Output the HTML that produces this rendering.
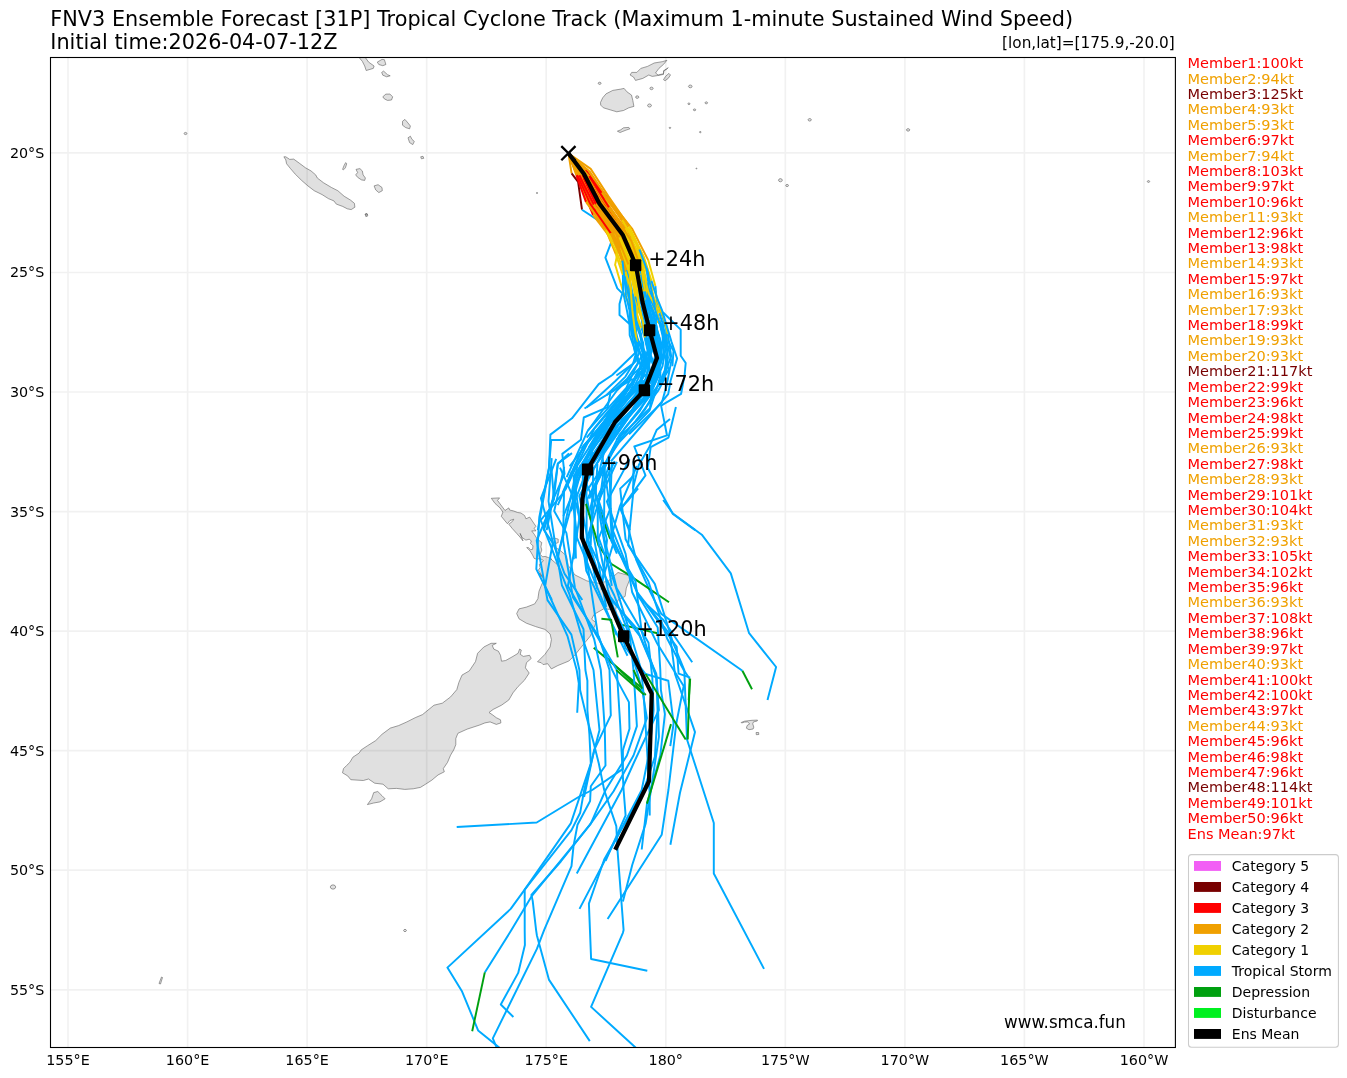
<!DOCTYPE html>
<html lang="en"><head><meta charset="utf-8"><title>FNV3 Ensemble Forecast [31P]</title>
<style>html,body{margin:0;padding:0;background:#fff}svg{display:block}text{font-family:"DejaVu Sans", "Liberation Sans", sans-serif}</style></head><body>
<svg width="1347" height="1078" viewBox="0 0 1347 1078">
<rect width="1347" height="1078" fill="#fff"/>
<text x="50.3" y="26" font-size="20.8">FNV3 Ensemble Forecast [31P] Tropical Cyclone Track (Maximum 1-minute Sustained Wind Speed)</text>
<text x="50.3" y="48.6" font-size="20.8">Initial time:2026-04-07-12Z</text>
<text x="1174.8" y="48" font-size="15.3" text-anchor="end">[lon,lat]=[175.9,-20.0]</text>
<defs><clipPath id="ax"><rect x="50.5" y="57.5" width="1124.9" height="990"/></clipPath></defs>
<g clip-path="url(#ax)">
<path fill="#e0e0e0" stroke="#606060" stroke-width="0.6" stroke-linejoin="round" d="M491.1 643.3L496.3 643.3L492.2 645.4L493.8 649.1L498.4 651.2L500.5 655.3L501.5 661.2L505.7 660.5L513.0 656.4L518.1 653.3L519.6 649.1L521.3 650.1L520.2 654.3L523.3 656.4L529.6 655.3L531.2 658.5L526.5 662.6L525.4 667.8L529.2 673.0L524.4 680.3L518.1 686.5L513.0 692.8L508.8 700.0L501.5 705.2L493.2 709.4L489.0 712.5L492.2 714.6L496.3 717.7L500.5 719.8L500.9 722.9L496.3 724.4L490.1 721.9L484.9 722.9L479.7 725.0L467.2 729.1L457.9 733.3L455.8 738.5L455.8 744.7L453.7 749.9L450.6 755.1L447.5 762.4L443.3 768.6L444.3 771.8L438.1 774.9L431.9 780.1L425.6 784.2L420.4 787.4L413.2 788.8L404.8 789.4L396.5 788.4L388.2 788.8L383.0 784.2L374.7 783.2L368.5 779.0L363.3 780.5L350.8 779.7L347.7 775.9L342.5 772.8L343.5 768.6L346.6 765.5L349.8 762.4L352.9 757.2L359.1 753.1L361.2 749.9L367.4 745.8L375.7 740.6L382.0 734.3L390.3 728.1L398.6 725.6L406.9 721.9L415.2 717.7L422.5 714.6L434.0 705.2L442.3 703.2L450.6 696.9L456.8 689.6L458.9 682.4L462.0 675.1L469.3 670.9L475.5 661.6L477.6 653.3L483.8 647.0ZM367.4 804.6L371.6 798.8L373.7 792.6L377.8 791.5L382.0 795.7L385.1 798.8L379.9 801.9L373.7 803.0ZM491.3 498.3L499.6 497.9L497.5 500.4L500.9 505.0L505.0 510.5L508.8 507.9L509.6 510.0L513.4 510.9L517.6 512.5L520.9 513.0L524.6 515.5L525.9 518.8L529.7 517.1L531.7 520.1L534.2 523.8L535.9 526.3L534.2 528.4L535.9 530.9L531.7 530.9L534.2 534.2L536.8 538.4L539.3 540.9L541.8 542.6L540.9 546.8L541.8 550.1L540.1 554.3L542.6 556.8L545.1 556.4L548.4 557.6L551.8 559.3L549.8 558.2L557.0 564.2L558.2 554.6L554.6 547.0L559.4 549.8L566.5 555.8L568.2 565.4L574.9 574.9L586.9 580.9L598.8 583.3L608.4 580.9L618.0 572.5L631.1 576.1L626.3 588.1L625.1 596.4L618.0 600.0L615.6 609.6L616.8 613.9L613.2 609.6L603.6 608.9L594.0 614.4L591.7 619.2L596.0 622.8L590.5 635.9L584.5 643.1L574.9 655.0L568.9 661.0L557.9 665.5L551.4 668.9L547.7 663.7L543.1 664.6L541.2 662.7L537.5 661.8L544.9 654.4L550.1 647.0L551.4 639.6L550.1 634.0L544.9 629.4L535.7 626.6L526.4 623.2L519.0 618.8L516.7 613.6L519.0 608.9L526.4 607.1L534.7 603.9L537.9 598.7L539.0 591.3L541.2 585.8L544.0 579.3L541.2 576.5L537.9 571.8L542.6 576.8L538.4 570.1L540.1 567.6L539.3 564.3L541.8 562.6L543.4 560.5L540.1 558.4L536.8 559.3L534.2 558.4L532.6 555.1L530.1 550.9L526.7 547.6L528.4 547.6L530.5 549.7L532.6 549.3L533.0 545.9L530.5 543.4L531.3 540.9L529.2 539.2L525.9 540.1L522.1 537.6L520.1 533.4L523.0 540.9L520.1 537.2L516.7 533.4L512.5 528.8L508.8 524.2L512.5 521.3L513.8 519.2L510.0 520.5L507.5 523.8L505.0 520.9L501.3 516.3L502.9 512.1L500.0 507.9L495.0 503.4ZM553.4 537.9L558.2 539.1L558.2 542.6L555.8 543.4ZM283.9 156.8L285.8 156.8L289.7 159.4L293.7 159.1L299.2 163.1L305.5 167.8L311.0 170.9L315.7 174.9L317.3 178.0L323.6 182.8L331.5 187.5L337.8 190.7L344.1 196.2L350.5 200.1L354.4 203.3L354.9 207.2L351.2 209.6L347.3 208.8L342.6 206.4L336.3 204.1L333.9 200.9L328.4 198.6L322.1 194.6L314.2 190.7L307.9 185.9L301.6 180.4L295.2 174.1L290.5 168.6L286.6 163.8L285.8 159.9ZM342.6 169.4L344.1 165.4L345.7 162.6L346.7 163.8L345.4 167.8L343.5 169.8ZM356.0 169.4L359.9 168.6L362.3 170.9L363.1 174.9L365.4 178.0L364.7 180.4L361.5 179.9L357.6 177.3L355.7 174.9L357.6 172.5ZM374.1 185.9L378.1 184.7L382.0 187.5L382.3 190.7L378.8 192.6L375.7 189.9ZM365.0 214.0L367.0 213.5L367.8 215.9L365.9 216.7ZM382.8 96.8L385.9 94.1L389.9 94.1L392.7 96.8L391.5 100.0L387.5 100.4L384.4 98.9ZM402.5 121.3L404.9 119.4L407.2 122.0L410.4 126.0L409.6 128.8L405.7 127.6L402.5 125.2ZM408.0 137.8L410.4 136.2L412.0 139.4L414.3 141.4L412.8 144.6L409.6 142.6ZM420.7 156.8L423.0 156.3L423.8 158.3L421.4 158.8ZM358.3 56.6L364.7 56.6L368.6 62.1L374.1 66.0L373.3 68.4L366.2 70.5L364.7 66.0L362.3 61.3ZM377.3 62.1L382.0 59.4L384.4 59.7L385.9 64.5L382.8 65.7L378.8 64.5ZM381.7 72.4L383.6 71.1L387.5 74.7L390.2 75.8L386.7 76.8L382.8 75.2ZM600.5 102.4L602.7 97.8L606.1 93.8L612.8 90.4L620.8 89.1L624.1 88.4L626.8 91.7L631.5 95.1L632.8 100.4L633.9 106.4L628.8 107.8L623.5 110.5L616.8 111.8L610.1 109.8L603.4 107.8L600.7 105.1ZM630.1 75.0L631.7 72.4L636.8 72.4L640.8 68.4L647.5 66.4L654.2 63.0L662.2 61.7L666.9 60.3L663.5 64.4L658.9 68.4L655.5 73.0L658.2 75.0L663.5 73.7L664.2 70.4L668.2 67.7L666.2 69.7L663.5 70.8L663.5 74.4L656.9 75.7L652.2 76.4L648.8 75.0L642.8 78.4L635.5 80.4L633.5 77.0ZM663.5 79.7L665.5 76.4L668.9 73.4L670.5 75.0L668.2 78.4L665.1 80.7ZM617.4 131.2L620.8 129.8L623.5 127.8L628.8 127.4L629.9 128.8L626.1 130.1L622.8 131.4L620.1 132.5ZM601.1 83.3L600.7 84.1L599.7 84.5L598.6 84.1L598.2 83.3L598.6 82.5L599.7 82.2L600.7 82.5ZM653.2 88.4L652.7 89.3L651.5 89.7L650.3 89.3L649.9 88.4L650.3 87.5L651.5 87.1L652.7 87.5ZM638.9 97.1L638.4 98.0L637.2 98.4L636.0 98.0L635.6 97.1L636.0 96.2L637.2 95.8L638.4 96.2ZM651.5 105.5L650.9 106.6L649.5 107.1L648.1 106.6L647.5 105.5L648.1 104.4L649.5 103.9L650.9 104.4ZM692.1 86.4L691.6 87.4L690.3 87.8L689.0 87.4L688.4 86.4L689.0 85.4L690.3 85.0L691.6 85.4ZM690.0 103.8L689.7 104.4L688.9 104.6L688.2 104.4L687.8 103.8L688.2 103.2L688.9 102.9L689.7 103.2ZM695.7 109.8L695.4 110.5L694.5 110.7L693.7 110.5L693.4 109.8L693.7 109.1L694.5 108.9L695.4 109.1ZM707.6 102.8L707.2 103.6L706.3 103.8L705.4 103.6L705.0 102.8L705.4 102.1L706.3 101.8L707.2 102.1ZM670.8 127.8L670.5 128.3L670.0 128.5L669.4 128.3L669.1 127.8L669.4 127.4L670.0 127.2L670.5 127.4ZM701.1 132.1L700.9 132.6L700.3 132.8L699.7 132.6L699.5 132.1L699.7 131.6L700.3 131.5L700.9 131.6ZM782.4 180.2L781.8 181.3L780.4 181.8L779.0 181.3L778.4 180.2L779.0 179.1L780.4 178.6L781.8 179.1ZM788.5 185.5L788.1 186.3L787.1 186.6L786.1 186.3L785.7 185.5L786.1 184.7L787.1 184.4L788.1 184.7ZM811.4 119.8L810.9 120.7L809.7 121.1L808.5 120.7L808.0 119.8L808.5 118.9L809.7 118.5L810.9 118.9ZM909.8 129.9L909.3 130.8L908.1 131.2L906.9 130.8L906.4 129.9L906.9 129.0L908.1 128.6L909.3 129.0ZM697.0 168.5L696.8 168.8L696.4 168.9L696.0 168.8L695.8 168.5L696.0 168.2L696.4 168.1L696.8 168.2ZM1149.7 181.5L1149.3 182.2L1148.5 182.4L1147.7 182.2L1147.3 181.5L1147.7 180.8L1148.5 180.6L1149.3 180.8ZM186.9 133.5L186.5 134.3L185.5 134.6L184.5 134.3L184.1 133.5L184.5 132.7L185.5 132.4L186.5 132.7ZM537.6 193.0L537.5 193.4L537.0 193.5L536.5 193.4L536.4 193.0L536.5 192.6L537.0 192.5L537.5 192.6ZM367.4 214.5L367.2 215.0L366.5 215.2L365.8 215.0L365.6 214.5L365.8 214.0L366.5 213.8L367.2 214.0ZM335.8 887.0L335.0 888.5L333.0 889.2L331.0 888.5L330.2 887.0L331.0 885.5L333.0 884.8L335.0 885.5ZM406.5 930.5L406.0 931.3L405.0 931.7L404.0 931.3L403.5 930.5L404.0 929.7L405.0 929.3L406.0 929.7ZM159.0 983.5L161.5 977.0L162.5 977.5L160.5 984.0ZM741.2 722.5L744.5 721.2L752.0 720.3L757.5 720.1L757.2 721.0L753.5 721.9L752.7 723.8L753.8 727.1L753.1 729.0L749.0 729.7L746.4 728.2L747.1 725.6L749.7 723.8L747.5 721.9L744.5 722.1L741.6 723.0ZM756.1 732.5L758.6 732.5L758.8 734.5L756.3 734.7Z"/>
<path d="M68.0 57.5V1047.5M187.6 57.5V1047.5M307.1 57.5V1047.5M426.7 57.5V1047.5M546.2 57.5V1047.5M665.8 57.5V1047.5M785.3 57.5V1047.5M904.9 57.5V1047.5M1024.4 57.5V1047.5M1144.0 57.5V1047.5M50.5 989.8H1175.4M50.5 870.2H1175.4M50.5 750.7H1175.4M50.5 631.1H1175.4M50.5 511.6H1175.4M50.5 392.0H1175.4M50.5 272.5H1175.4M50.5 152.9H1175.4" fill="none" stroke="#000" stroke-opacity="0.055" stroke-width="1.7"/>
<g fill="none" stroke-width="1.95" stroke-linejoin="round" stroke-linecap="butt">
<path stroke="#f0a000" d="M568.4 153.2L571.6 173.3"/>
<path stroke="#780000" d="M571.6 173.3L578.1 181.8L582.0 209.7"/>
<path stroke="#00aaff" d="M582.0 209.7L604.7 224.6L612.5 238.9L605.4 257.7L617.3 288.4L622.3 293.4L619.5 304.0L619.5 315.1L630.1 324.6L635.1 353.0L612.3 375.0L598.7 384.1L572.0 418.3L550.4 434.6L549.0 468.0L537.8 530.1"/>
<path stroke="#f0d000" d="M612.5 238.9L617.7 251.9L615.1 264.9L615.6 266.1L623.4 292.8L629.0 304.0"/>
<path stroke="#f0d000" d="M637.9 282.8L644.5 304.0L662.9 312.3"/>
<path stroke="#00aaff" d="M662.9 312.3L680.7 329.6L680.7 355.7L685.7 363.0L684.6 375.0L681.1 393.8L661.1 405.6L667.0 435.3L634.3 446.5L645.5 475.4L621.0 508.8L629.9 530.1"/>
<path stroke="#f0d000" d="M645.7 308.4L651.8 316.8L661.2 325.1L667.9 340.7"/>
<path stroke="#00aaff" d="M667.9 340.7L673.5 350.7L672.4 366.3"/>
<path stroke="#f0a000" d="M568.4 153.2L588.6 174.0"/>
<path stroke="#ff0000" d="M588.6 174.0L605.6 203.0"/>
<path stroke="#f0a000" d="M605.6 203.0L629.6 235.8L645.1 267.7"/>
<path stroke="#f0d000" d="M645.1 267.7L651.0 284.9L652.8 302.7L654.1 319.0L657.6 332.2"/>
<path stroke="#00aaff" d="M657.6 332.2L662.9 347.5L668.6 370.1L657.6 386.4L644.7 410.0L613.3 447.8L589.3 498.6"/>
<path stroke="#f0a000" d="M568.4 153.2L578.2 177.7L590.6 208.6L614.2 238.9"/>
<path stroke="#f0d000" d="M614.2 238.9L627.8 266.7L630.1 284.3L633.4 303.8L636.9 320.4"/>
<path stroke="#00aaff" d="M636.9 320.4L640.6 337.7L643.1 351.5L646.5 362.8L644.2 373.1L638.6 387.8L606.4 418.6L569.6 466.3"/>
<path stroke="#f0a000" d="M568.4 153.2L587.4 171.9"/>
<path stroke="#ff0000" d="M587.4 171.9L608.2 198.7"/>
<path stroke="#f0a000" d="M608.2 198.7L632.4 229.2L648.2 260.1"/>
<path stroke="#f0d000" d="M648.2 260.1L655.4 286.1"/>
<path stroke="#00aaff" d="M655.4 286.1L656.8 301.7L662.1 315.5L666.1 329.5L666.9 341.4L671.3 361.1L666.6 385.5L661.9 402.6L629.0 434.2"/>
<path stroke="#f0a000" d="M568.4 153.2L585.6 173.3L601.9 200.2L625.0 229.2"/>
<path stroke="#f0d000" d="M625.0 229.2L637.4 257.2L643.1 278.2L647.6 294.3"/>
<path stroke="#00aaff" d="M647.6 294.3L650.1 306.0L654.4 316.3L656.9 330.4L659.9 342.3L658.7 361.9L654.7 373.3L628.2 408.9L600.5 443.2"/>
<path stroke="#f0a000" d="M568.4 153.2L585.5 173.6L602.3 204.0L624.7 236.5"/>
<path stroke="#f0d000" d="M624.7 236.5L633.4 265.5L634.7 282.0"/>
<path stroke="#00aaff" d="M634.7 282.0L638.8 303.5L644.6 320.7L649.5 336.9L656.2 354.2L660.4 372.4L651.9 390.0L650.0 408.2L616.2 440.0"/>
<path stroke="#f0a000" d="M568.4 153.2L582.1 175.3L596.1 207.5L618.4 240.7"/>
<path stroke="#f0d000" d="M618.4 240.7L628.7 268.9"/>
<path stroke="#00aaff" d="M628.7 268.9L628.2 283.3L634.6 299.8L635.7 316.8L638.0 329.8L643.2 342.8L643.6 352.1L635.2 368.5L626.3 387.9L588.0 430.4"/>
<path stroke="#f0a000" d="M568.4 153.2L586.6 173.5L601.6 204.6L624.5 237.8L638.2 269.2"/>
<path stroke="#f0d000" d="M638.2 269.2L643.4 283.8"/>
<path stroke="#00aaff" d="M643.4 283.8L648.3 302.3L650.2 317.8L655.6 335.8L661.1 348.2L660.2 362.4L652.8 383.3L640.0 403.0L607.3 444.0L579.3 496.0L597.3 589.0"/>
<path stroke="#f0a000" d="M568.4 153.2L582.8 174.3L598.4 204.6L622.4 236.8L638.2 266.9"/>
<path stroke="#f0d000" d="M638.2 266.9L640.5 286.2"/>
<path stroke="#00aaff" d="M640.5 286.2L645.6 305.8L645.5 321.2L647.0 332.8L654.0 347.2L657.1 363.9L650.4 380.0L639.2 396.3L607.8 431.4L575.4 483.7L573.8 559.2"/>
<path stroke="#f0a000" d="M568.4 153.2L578.3 178.6"/>
<path stroke="#ff0000" d="M578.3 178.6L593.0 214.8"/>
<path stroke="#f0a000" d="M593.0 214.8L616.7 246.2"/>
<path stroke="#f0d000" d="M616.7 246.2L626.8 272.6"/>
<path stroke="#00aaff" d="M626.8 272.6L628.1 291.5L630.5 309.3L631.9 325.5L636.7 348.2L645.7 361.4L638.0 372.3L629.4 393.6L614.9 408.3L577.5 465.1L558.1 556.9"/>
<path stroke="#f0a000" d="M568.4 153.2L585.2 174.2"/>
<path stroke="#ff0000" d="M585.2 174.2L599.8 203.7"/>
<path stroke="#f0a000" d="M599.8 203.7L624.2 234.0"/>
<path stroke="#f0d000" d="M624.2 234.0L639.4 263.6L643.1 282.6L646.9 306.6L649.7 326.3L652.2 340.6"/>
<path stroke="#00aaff" d="M652.2 340.6L658.0 355.3L660.5 375.4L656.9 388.1L649.6 410.3L618.7 442.9L586.5 491.2L586.8 568.5"/>
<path stroke="#f0a000" d="M568.4 153.2L581.1 176.8L591.9 206.1L614.2 234.6"/>
<path stroke="#f0d000" d="M614.2 234.6L626.6 264.7L628.5 286.0L635.8 301.4L637.4 316.5L639.7 330.6"/>
<path stroke="#00aaff" d="M639.7 330.6L643.1 347.2L647.2 359.6L646.4 367.4L639.9 384.6L618.2 411.4L583.5 445.9L562.5 492.9"/>
<path stroke="#f0a000" d="M568.4 153.2L583.7 174.6L597.8 203.1L619.3 233.8"/>
<path stroke="#f0d000" d="M619.3 233.8L630.0 261.2"/>
<path stroke="#00aaff" d="M630.0 261.2L635.1 283.7L640.8 299.3L643.9 317.2L649.0 332.0L656.6 347.3L660.2 363.2L653.8 376.4L650.6 394.8L615.3 427.2L585.8 472.8L576.6 536.9L616.6 635.2"/>
<path stroke="#f0a000" d="M568.4 153.2L583.8 171.6L598.7 197.4L617.2 224.8L631.8 252.1"/>
<path stroke="#f0d000" d="M631.8 252.1L639.7 275.0"/>
<path stroke="#00aaff" d="M639.7 275.0L646.2 286.6L649.4 302.4L656.3 317.7L654.7 331.3L656.7 345.6L657.2 356.2L654.5 368.8L639.9 389.6L615.8 417.8"/>
<path stroke="#f0a000" d="M568.4 153.2L585.7 171.5L603.0 199.5L624.4 230.4"/>
<path stroke="#f0d000" d="M624.4 230.4L636.4 259.8"/>
<path stroke="#00aaff" d="M636.4 259.8L641.0 278.2L646.9 299.9L652.4 318.6L656.2 333.4L657.1 346.2L659.5 361.1L655.7 378.1L650.1 391.0"/>
<path stroke="#f0a000" d="M568.4 153.2L577.0 174.6"/>
<path stroke="#ff0000" d="M577.0 174.6L586.8 201.5"/>
<path stroke="#f0a000" d="M586.8 201.5L605.4 229.0L615.7 253.9"/>
<path stroke="#f0d000" d="M615.7 253.9L622.9 275.1"/>
<path stroke="#00aaff" d="M622.9 275.1L623.1 292.0L626.6 308.9L629.5 323.7L629.7 335.2L633.8 347.0L636.9 357.5L637.9 363.4L626.9 379.1L613.3 390.9L584.5 408.5"/>
<path stroke="#f0a000" d="M568.4 153.2L590.7 174.7L612.9 206.6L636.0 243.3"/>
<path stroke="#f0d000" d="M636.0 243.3L647.4 273.2L655.2 292.2L659.5 307.6L664.4 320.1L667.8 334.0"/>
<path stroke="#00aaff" d="M667.8 334.0L671.2 356.1L662.6 379.5L643.9 403.8L625.0 427.8L594.8 487.4L611.8 585.9"/>
<path stroke="#f0a000" d="M568.4 153.2L580.7 180.2L597.1 214.2L620.4 247.5"/>
<path stroke="#f0d000" d="M620.4 247.5L628.1 275.2L630.0 294.7"/>
<path stroke="#00aaff" d="M630.0 294.7L631.5 317.5L634.0 333.4L636.7 354.7L642.5 370.1L640.9 384.6L632.5 401.8L617.4 420.8L581.5 469.9L558.9 550.9"/>
<path stroke="#f0a000" d="M568.4 153.2L583.7 174.3"/>
<path stroke="#ff0000" d="M583.7 174.3L598.3 201.9"/>
<path stroke="#f0a000" d="M598.3 201.9L619.8 231.6"/>
<path stroke="#f0d000" d="M619.8 231.6L634.8 260.5L638.7 283.0"/>
<path stroke="#00aaff" d="M638.7 283.0L642.8 299.0L646.2 318.3L647.5 330.0L650.0 343.8L656.5 358.3L655.9 367.2L651.7 376.8L627.8 403.3L598.0 437.1"/>
<path stroke="#f0a000" d="M568.4 153.2L589.6 171.4L607.2 198.0L627.9 227.4"/>
<path stroke="#f0d000" d="M627.9 227.4L643.1 256.0L649.1 276.7L654.0 298.2L659.4 313.1"/>
<path stroke="#00aaff" d="M659.4 313.1L662.8 324.0L665.9 339.6L668.0 357.6L664.6 378.7L658.7 389.8L635.9 420.8"/>
<path stroke="#f0a000" d="M568.4 153.2L590.7 168.9L608.3 196.1L629.2 226.4"/>
<path stroke="#f0d000" d="M629.2 226.4L644.0 257.5L651.5 280.8"/>
<path stroke="#00aaff" d="M651.5 280.8L656.6 296.8L662.0 310.1L667.5 328.5L671.6 342.1L677.1 358.5L670.7 380.2L668.2 394.2L640.1 427.5L610.9 461.4"/>
<path stroke="#f0a000" d="M568.4 153.2L581.5 179.4L595.9 211.9L618.6 245.4L624.8 272.4"/>
<path stroke="#f0d000" d="M624.8 272.4L626.9 292.1L633.8 311.2"/>
<path stroke="#00aaff" d="M633.8 311.2L634.7 327.8L638.2 341.3L644.5 357.1L644.7 365.3L640.1 380.7L629.2 393.7L593.9 442.6L563.4 516.0"/>
<path stroke="#f0a000" d="M568.4 153.2L581.9 175.1L595.2 204.8L618.0 234.8"/>
<path stroke="#f0d000" d="M618.0 234.8L630.1 264.4L632.1 280.1L635.9 299.2L637.0 314.7L641.5 328.1"/>
<path stroke="#00aaff" d="M641.5 328.1L646.5 342.4L650.4 356.1L646.9 364.5L641.5 381.2L615.2 410.8"/>
<path stroke="#f0a000" d="M568.4 153.2L581.2 175.2L593.9 204.7L616.4 234.4"/>
<path stroke="#f0d000" d="M616.4 234.4L628.0 264.0L632.8 277.3L635.8 293.9L638.2 310.4L644.0 324.1"/>
<path stroke="#00aaff" d="M644.0 324.1L649.1 336.6L649.3 351.3L642.2 364.0L633.5 381.0L613.7 411.0L581.7 448.2"/>
<path stroke="#f0a000" d="M568.4 153.2L586.4 171.5"/>
<path stroke="#ff0000" d="M586.4 171.5L603.1 201.0"/>
<path stroke="#f0a000" d="M603.1 201.0L625.7 231.8"/>
<path stroke="#f0d000" d="M625.7 231.8L637.3 262.5"/>
<path stroke="#00aaff" d="M637.3 262.5L644.2 281.1L648.4 298.3L652.0 311.0L656.0 325.4L659.7 338.8L660.7 354.2L657.7 375.8L649.9 393.7L620.4 425.4"/>
<path stroke="#f0a000" d="M568.4 153.2L584.2 172.6"/>
<path stroke="#ff0000" d="M584.2 172.6L597.8 201.7L620.3 230.9"/>
<path stroke="#f0d000" d="M620.3 230.9L634.1 261.3"/>
<path stroke="#00aaff" d="M634.1 261.3L639.5 277.0L644.2 290.5L647.7 302.7L647.2 311.4L650.8 319.1L654.4 330.0L653.0 348.1L646.2 365.3L619.0 397.9L586.7 437.6"/>
<path stroke="#f0a000" d="M568.4 153.2L583.6 175.5L598.1 206.6L621.8 238.4"/>
<path stroke="#f0d000" d="M621.8 238.4L635.8 267.5L638.9 284.5"/>
<path stroke="#00aaff" d="M638.9 284.5L643.6 298.6L647.0 314.6L651.4 331.2L649.8 344.9L649.2 355.2L642.0 371.1L634.2 386.4L603.7 424.9L574.8 482.0L586.3 570.8L627.5 655.8"/>
<path stroke="#f0a000" d="M568.4 153.2L580.6 174.0"/>
<path stroke="#ff0000" d="M580.6 174.0L593.0 200.2"/>
<path stroke="#f0a000" d="M593.0 200.2L612.9 228.5"/>
<path stroke="#f0d000" d="M612.9 228.5L632.9 253.2L636.0 269.9"/>
<path stroke="#00aaff" d="M636.0 269.9L638.0 291.0L639.1 307.6L644.0 326.4L646.0 343.4L653.1 361.0L654.7 374.8L646.9 385.1L633.3 410.5"/>
<path stroke="#f0a000" d="M568.4 153.2L576.9 174.5L587.6 201.2L605.2 228.7"/>
<path stroke="#f0d000" d="M605.2 228.7L618.6 256.9L624.8 276.5"/>
<path stroke="#00aaff" d="M624.8 276.5L628.8 296.7L632.7 309.8L632.6 323.9L634.9 332.7L634.8 342.2L639.4 351.9L638.3 355.1L625.5 376.6L606.7 395.0"/>
<path stroke="#f0a000" d="M568.4 153.2L586.2 171.1L602.2 199.3L623.7 231.3"/>
<path stroke="#f0d000" d="M623.7 231.3L640.6 259.6L643.9 280.6L648.8 293.8L654.1 303.4L657.0 313.8"/>
<path stroke="#00aaff" d="M657.0 313.8L662.6 327.8L663.4 341.1L658.4 358.0L653.6 371.7L622.5 401.6L593.1 443.0L586.0 482.9L616.9 553.7"/>
<path stroke="#f0a000" d="M568.4 153.2L576.4 175.5"/>
<path stroke="#ff0000" d="M576.4 175.5L585.9 201.8"/>
<path stroke="#f0a000" d="M585.9 201.8L606.5 229.9"/>
<path stroke="#f0d000" d="M606.5 229.9L621.4 254.3L628.1 273.1"/>
<path stroke="#00aaff" d="M628.1 273.1L629.0 285.3L629.7 297.5L631.7 308.8L634.0 318.8L631.9 328.6L636.9 338.7L638.4 345.2L633.0 363.8L616.4 375.5"/>
<path stroke="#f0a000" d="M568.4 153.2L579.0 176.8L592.7 209.9L616.2 240.7L626.8 269.9"/>
<path stroke="#00aaff" d="M626.8 269.9L630.8 284.8L635.1 306.1L635.7 320.6L636.4 337.3L644.9 351.9L643.4 359.3L638.8 370.7L629.7 387.8L594.4 428.7L565.3 489.8"/>
<path stroke="#f0a000" d="M568.4 153.2L583.2 179.9L600.2 213.5L621.5 248.5"/>
<path stroke="#f0d000" d="M621.5 248.5L632.2 273.7L635.4 296.5"/>
<path stroke="#00aaff" d="M635.4 296.5L641.0 311.9L643.0 329.5L650.5 346.4L649.6 357.2L641.7 371.0L628.9 387.4L609.5 412.6L574.4 478.9"/>
<path stroke="#f0a000" d="M568.4 153.2L583.7 178.3"/>
<path stroke="#ff0000" d="M583.7 178.3L599.9 212.7"/>
<path stroke="#f0a000" d="M599.9 212.7L621.1 247.5"/>
<path stroke="#f0d000" d="M621.1 247.5L629.8 274.7L631.4 293.8"/>
<path stroke="#00aaff" d="M631.4 293.8L635.1 317.6L641.1 334.0L642.6 353.2L647.8 368.4L645.0 388.0L636.6 406.1L617.5 425.6"/>
<path stroke="#f0a000" d="M568.4 153.2L586.8 175.0"/>
<path stroke="#ff0000" d="M586.8 175.0L604.3 203.8L627.9 234.2"/>
<path stroke="#f0a000" d="M627.9 234.2L639.3 262.8"/>
<path stroke="#00aaff" d="M639.3 262.8L644.2 280.1L647.1 294.6L651.9 309.3L656.6 325.9L657.1 337.5L660.5 352.9L651.0 372.7L646.4 386.6L614.9 416.2L582.8 465.1L582.9 530.3"/>
<path stroke="#f0a000" d="M568.4 153.2L587.5 176.4"/>
<path stroke="#ff0000" d="M587.5 176.4L605.3 207.4"/>
<path stroke="#f0a000" d="M605.3 207.4L628.1 239.6L639.9 269.1"/>
<path stroke="#00aaff" d="M639.9 269.1L641.7 290.4L647.6 305.6L646.5 317.3L653.9 327.6L656.3 334.0L651.5 349.1L647.6 372.7L629.2 392.5L593.6 442.4L582.3 511.4"/>
<path stroke="#f0a000" d="M568.4 153.2L584.2 170.4L598.3 197.8L618.7 226.3"/>
<path stroke="#f0d000" d="M618.7 226.3L633.0 257.3L640.0 275.4"/>
<path stroke="#00aaff" d="M640.0 275.4L640.5 293.0L643.9 305.0L644.6 317.6L649.5 331.9L651.3 343.1L656.7 354.4L656.2 365.6L637.1 390.3L608.1 415.0L588.6 447.7"/>
<path stroke="#f0a000" d="M568.4 153.2L580.3 177.6"/>
<path stroke="#ff0000" d="M580.3 177.6L596.2 210.6"/>
<path stroke="#f0a000" d="M596.2 210.6L616.9 242.9L625.6 271.9"/>
<path stroke="#f0d000" d="M625.6 271.9L630.5 288.0L632.4 310.7L634.4 326.5L637.0 342.1"/>
<path stroke="#00aaff" d="M637.0 342.1L642.0 359.3L639.7 368.1L631.1 384.3L622.2 399.8L583.9 445.7L557.8 505.2"/>
<path stroke="#f0a000" d="M568.4 153.2L583.1 175.4"/>
<path stroke="#ff0000" d="M583.1 175.4L596.9 202.9"/>
<path stroke="#f0a000" d="M596.9 202.9L620.1 233.0"/>
<path stroke="#f0d000" d="M620.1 233.0L632.3 258.9L639.5 280.2"/>
<path stroke="#00aaff" d="M639.5 280.2L640.0 299.6L645.4 318.9L645.6 336.4L649.2 354.2L654.6 369.1L647.1 379.5L641.8 396.4L619.7 427.3L590.8 465.9"/>
<path stroke="#f0a000" d="M568.4 153.2L577.2 174.9"/>
<path stroke="#ff0000" d="M577.2 174.9L590.2 203.8L610.8 233.2"/>
<path stroke="#f0a000" d="M610.8 233.2L622.4 260.7"/>
<path stroke="#00aaff" d="M622.4 260.7L624.6 279.3L626.0 295.4L629.4 310.0L630.3 324.8L633.3 334.8L637.1 344.5L636.5 351.2L635.8 361.1L615.4 381.0L586.5 407.5"/>
<path stroke="#f0a000" d="M568.4 153.2L587.4 177.4L606.6 211.0L627.6 247.8"/>
<path stroke="#f0d000" d="M627.6 247.8L638.9 276.6L643.4 299.6"/>
<path stroke="#00aaff" d="M643.4 299.6L647.9 318.7L650.7 336.0L656.1 356.3L658.0 373.6L650.1 393.3L640.0 410.5L619.4 434.9L587.2 499.4L606.1 607.0"/>
<path stroke="#f0a000" d="M568.4 153.2L582.4 174.6"/>
<path stroke="#ff0000" d="M582.4 174.6L596.1 203.9"/>
<path stroke="#f0a000" d="M596.1 203.9L617.1 233.5"/>
<path stroke="#f0d000" d="M617.1 233.5L628.9 264.2L637.0 281.1L643.5 291.5"/>
<path stroke="#00aaff" d="M643.5 291.5L646.7 300.3L646.9 315.7L646.5 325.9L652.5 336.6L647.8 350.5L641.1 366.6L616.9 390.5L587.2 431.8L566.7 477.2"/>
<path stroke="#f0a000" d="M568.4 153.2L583.6 173.7"/>
<path stroke="#ff0000" d="M583.6 173.7L599.6 202.4"/>
<path stroke="#f0a000" d="M599.6 202.4L623.2 232.4"/>
<path stroke="#f0d000" d="M623.2 232.4L641.5 259.8L646.5 281.8L645.9 299.7"/>
<path stroke="#00aaff" d="M645.9 299.7L645.4 315.0L650.0 326.4L653.5 337.2L658.8 350.3L654.5 358.2L650.2 376.5L625.3 408.3L593.0 448.5"/>
<path stroke="#f0a000" d="M568.4 153.2L583.1 171.2"/>
<path stroke="#ff0000" d="M583.1 171.2L598.0 197.9"/>
<path stroke="#f0a000" d="M598.0 197.9L618.9 227.4L634.6 255.2"/>
<path stroke="#f0d000" d="M634.6 255.2L639.3 276.1L642.2 293.6L644.6 307.8"/>
<path stroke="#00aaff" d="M644.6 307.8L647.2 319.7L651.3 335.0L654.0 348.5L657.2 360.6L653.6 372.5L635.8 400.0"/>
<path stroke="#f0a000" d="M568.4 153.2L580.3 175.7L594.5 206.6L619.7 237.5"/>
<path stroke="#f0d000" d="M619.7 237.5L632.8 266.8L636.4 282.6L638.7 303.0L641.7 319.4"/>
<path stroke="#00aaff" d="M641.7 319.4L645.9 335.2L648.9 348.0L650.3 359.9L645.2 380.9L640.3 394.5L607.0 425.0L573.7 476.2L575.9 558.5"/>
<path stroke="#f0a000" d="M568.4 153.2L589.3 173.6L608.0 205.1L630.6 238.3"/>
<path stroke="#f0d000" d="M630.6 238.3L646.6 268.0"/>
<path stroke="#00aaff" d="M646.6 268.0L648.9 288.6L655.3 305.2L657.6 317.0L661.9 331.0L666.4 344.5L662.5 366.1L653.7 386.3L636.0 407.3L604.2 451.5L588.7 515.0"/>
<path stroke="#f0a000" d="M568.4 153.2L579.4 175.3"/>
<path stroke="#ff0000" d="M579.4 175.3L593.9 204.7"/>
<path stroke="#f0a000" d="M593.9 204.7L615.9 233.6L628.5 264.6"/>
<path stroke="#f0d000" d="M628.5 264.6L634.7 282.2L638.7 304.7L643.0 322.3L644.9 337.6"/>
<path stroke="#00aaff" d="M644.9 337.6L648.1 353.5L649.4 367.8L651.2 376.8L642.7 392.4L623.9 423.2L592.0 457.2L570.9 511.2"/>
<path stroke="#f0a000" d="M568.4 153.2L586.6 171.5"/>
<path stroke="#ff0000" d="M586.6 171.5L604.1 198.9"/>
<path stroke="#f0a000" d="M604.1 198.9L625.1 228.5"/>
<path stroke="#f0d000" d="M625.1 228.5L640.2 260.8L646.6 282.6"/>
<path stroke="#00aaff" d="M646.6 282.6L649.5 298.5L656.3 310.8L660.1 323.0L664.4 339.7L667.3 351.4L664.8 370.2L658.2 386.0"/>
<path stroke="#f0a000" d="M568.4 153.2L586.9 172.8L603.5 200.9L625.3 231.4"/>
<path stroke="#f0d000" d="M625.3 231.4L638.6 262.0L644.7 278.1L648.8 293.9L655.4 306.4L659.5 322.3"/>
<path stroke="#00aaff" d="M659.5 322.3L662.6 336.1L663.6 354.9L658.2 371.4L652.3 390.4L622.3 419.1L593.7 463.2"/>
<path stroke="#f0a000" d="M568.4 153.2L585.4 170.3"/>
<path stroke="#ff0000" d="M585.4 170.3L601.6 192.9"/>
<path stroke="#f0a000" d="M601.6 192.9L622.2 219.9"/>
<path stroke="#f0d000" d="M622.2 219.9L639.4 249.5"/>
<path stroke="#00aaff" d="M639.4 249.5L647.6 271.3L650.3 285.4L653.4 299.4L655.5 311.3L658.7 320.9L663.2 330.9L665.2 337.6L663.3 353.6L651.6 381.5L624.3 411.1"/>
<path stroke="#f0a000" d="M568.4 153.2L589.3 176.3"/>
<path stroke="#ff0000" d="M589.3 176.3L609.0 207.4"/>
<path stroke="#f0a000" d="M609.0 207.4L631.3 240.9L641.8 270.6"/>
<path stroke="#f0d000" d="M641.8 270.6L645.0 291.5"/>
<path stroke="#00aaff" d="M645.0 291.5L648.5 307.2L652.2 324.9L656.6 338.3L661.6 354.9L656.5 375.0L645.2 398.7L629.2 416.6L593.4 468.7L590.7 545.1"/>
<path stroke="#00aaff" d="M632.8 378.9L610.6 392.3L607.6 407.1L583.8 417.5L580.9 439.8L562.3 453.9L564.5 473.9L552.7 500.7L546.7 530.1"/>
<path stroke="#00aaff" d="M572.0 453.1L557.9 463.5L554.1 496.2L543.8 530.1"/>
<path stroke="#00aaff" d="M675.9 407.1L668.5 437.6L650.7 447.2L647.7 468.0L672.9 514.0L695.2 530.1"/>
<path stroke="#00aaff" d="M670.0 419.0L656.6 430.1L649.2 447.2L638.8 465.0L632.8 488.8"/>
<path stroke="#00aaff" d="M564.5 440.0L551.2 440.0L548.9 468.2L539.3 517.2L536.3 569.1L551.9 600.0"/>
<path stroke="#00aaff" d="M569.0 453.4L557.8 463.7L552.7 499.4L543.7 529.8L553.4 543.9L564.5 573.6L582.3 600.0"/>
<path stroke="#00aaff" d="M663.2 500.0L672.9 513.5L701.8 534.7L730.8 573.4L749.1 633.2L776.1 667.0L767.5 700.0"/>
<path stroke="#00aaff" d="M638.1 488.4L628.5 500.0L620.3 508.7L628.5 529.0L636.2 559.8L649.7 590.7L661.3 613.9L742.4 670.8"/>
<path stroke="#00a010" d="M742.4 670.8L752.0 689.2"/>
<path stroke="#00a010" d="M586.0 503.9L598.5 545.4L611.1 563.7L626.5 573.4L669.0 602.3"/>
<path stroke="#00a010" d="M598.5 505.8L605.3 525.1L610.1 538.6"/>
<path stroke="#00a010" d="M601.4 618.7L611.1 619.7L617.8 657.3"/>
<path stroke="#00a010" d="M616.9 623.6L657.4 633.2"/>
<path stroke="#00a010" d="M593.7 647.7L642.0 688.2"/>
<path stroke="#00a010" d="M603.4 654.4L645.8 695.0"/>
<path stroke="#00a010" d="M690.2 678.6L688.7 700.0"/>
<path stroke="#00aaff" d="M638.1 596.5L663.2 619.7L692.2 662.2"/>
<path stroke="#00aaff" d="M645.8 604.2L676.7 646.7L678.6 673.7L690.2 677.6"/>
<path stroke="#00aaff" d="M551.7 458.1L548.5 501.1L555.9 548.4L561.9 585.2L583.5 629.2L585.4 670.0L587.4 680.7L587.4 710.1L589.4 734.1L590.8 763.5L570.8 823.4L524.7 889.6L510.7 908.9L447.4 967.6L462.1 991.6L478.1 1030.4L499.5 1047.8"/>
<path stroke="#00aaff" d="M569.7 479.8L563.3 492.9L540.7 520.1L569.4 594.1L580.7 633.0L593.5 670.0L599.5 730.1L584.1 790.3L580.2 812.7L571.5 830.1L524.7 889.6L524.7 930.1L524.9 944.9L518.2 972.9L500.8 1004.5L513.4 1017.0"/>
<path stroke="#00aaff" d="M564.2 466.9L554.2 511.0L566.4 532.9L574.9 587.5L594.3 639.7L600.8 670.0L601.5 679.4L604.8 730.1L605.5 765.5L590.8 786.3L590.1 801.0L577.5 824.7L573.5 846.1L571.5 866.2L544.1 930.1L536.9 948.9L492.8 1038.4L496.8 1047.8"/>
<path stroke="#00aaff" d="M604.0 467.5L600.2 497.7L587.1 538.3L614.3 595.5L630.0 637.2L633.5 670.0L636.9 726.1L626.9 755.5L605.6 790.0L590.9 823.4L560.8 861.5L531.4 894.9L532.7 900.9L536.1 930.1L536.9 935.5L548.9 979.6L589.8 1041.1"/>
<path stroke="#00aaff" d="M597.4 464.0L595.5 497.6L588.4 541.3L602.0 585.6L624.9 631.0L638.9 678.0L642.9 694.1L646.9 718.1L633.5 755.5L613.6 791.3L589.5 825.4L532.1 895.6L511.4 930.1L484.8 972.4"/>
<path stroke="#00aaff" d="M551.4 468.1L554.0 499.1L536.7 540.5L547.5 600.1L571.4 634.6L579.4 670.0L580.1 690.0L586.8 718.1L593.5 742.2L598.8 763.5L604.2 790.0L616.3 826.1L617.6 851.5L623.6 930.1L622.9 932.8L591.1 1006.9L635.8 1047.8"/>
<path stroke="#00aaff" d="M608.8 454.9L610.8 508.7L613.7 544.1L635.4 580.9L641.6 631.1L656.3 678.0L657.6 694.1L658.9 710.1L650.9 726.1L633.5 763.5L621.6 790.0L576.8 873.5"/>
<path stroke="#00aaff" d="M580.6 464.8L572.0 494.4L577.0 535.4L567.9 586.0L595.4 633.4L616.8 670.0L620.2 724.8L623.6 790.0L625.6 815.4L605.6 860.8"/>
<path stroke="#00aaff" d="M604.7 468.1L604.3 500.4L603.8 536.4L616.7 588.2L648.5 642.8L652.3 678.0L653.6 710.1L649.6 750.2L641.7 790.0L579.5 908.9"/>
<path stroke="#00aaff" d="M614.7 461.0L597.5 497.2L613.2 543.7L601.1 584.6L639.7 635.8L656.3 675.3L657.6 710.1L654.9 756.9L643.7 790.0L604.2 859.5L588.9 903.6L591.1 959.0L647.3 970.8"/>
<path stroke="#00aaff" d="M602.5 457.4L610.2 508.8L598.8 538.0L614.8 583.9L631.0 635.9L641.1 669.3L643.8 696.0L649.7 794.0L649.7 815.4"/>
<path stroke="#00aaff" d="M611.9 461.7L610.0 509.2L611.6 535.6L639.7 598.0L657.7 627.6L660.3 670.0L660.9 690.0L664.9 714.1L660.3 755.5L647.0 803.4L641.7 849.5"/>
<path stroke="#00aaff" d="M617.0 461.8L598.0 502.1L607.0 540.1L601.6 588.8L636.9 628.6L656.3 674.0L657.6 694.1L658.9 736.8L651.0 790.0L645.7 823.4L632.3 864.8L622.9 901.6"/>
<path stroke="#00aaff" d="M629.6 459.4L606.9 501.5L625.6 553.8L632.2 592.3L657.2 643.6L673.6 670.0L683.7 686.0L676.3 723.5L668.4 790.0L661.7 834.8L607.6 919.0"/>
<path stroke="#00aaff" d="M636.8 466.0L619.8 506.7L613.0 530.8L637.3 592.4L670.0 634.5L675.0 674.0L695.0 732.1L680.0 792.7L670.4 844.8"/>
<path stroke="#00aaff" d="M633.6 461.3L633.1 494.1L628.1 545.1L654.8 583.9L672.5 641.3L684.3 670.0L687.0 739.5L713.8 823.0L713.8 873.5L764.0 968.9"/>
<path stroke="#00aaff" d="M560.0 467.6L576.0 503.4L582.9 533.2L590.9 587.9L598.0 635.3L612.2 670.0L618.8 683.4L628.9 702.1L629.5 728.8L622.9 750.2L622.9 768.9L592.2 790.0L580.2 796.0L536.7 822.5L456.7 827.0"/>
<path stroke="#00aaff" d="M556.2 458.9L540.9 498.3L552.9 542.0L545.1 586.0L567.6 636.4L576.7 670.0L578.8 683.4L577.2 712.8"/>
<path stroke="#00aaff" d="M571.9 471.1L564.0 492.0L563.1 540.7L572.9 597.1L598.9 636.9L609.5 670.0L610.8 715.4L594.1 750.2L584.1 797.0"/>
<path stroke="#00aaff" d="M608.3 466.9L597.7 504.7L597.8 538.9L608.0 590.0L625.4 647.5L645.6 674.0L668.3 680.7L673.6 723.5L670.3 746.2"/>
<path stroke="#00aaff" d="M634.2 475.3L620.2 488.6L625.6 539.3L648.2 580.9L667.1 638.5L683.7 670.0L689.7 678.7"/>
<path stroke="#00a010" d="M484.8 972.4L472.2 1031.2"/>
<path stroke="#00a010" d="M671.0 724.1L646.9 803.6"/>
<path stroke="#00a010" d="M689.7 678.7L687.7 739.5"/>
<path stroke="#00a010" d="M645.6 674.0L685.7 739.5"/>
<path stroke="#00a010" d="M616.2 670.0L644.2 694.7"/>
<path stroke="#00a010" d="M633.5 670.0L642.2 688.7"/>
</g>
<path fill="none" stroke="#000" stroke-width="4.2" stroke-linejoin="round" d="M568.4 153.2L584.0 174.0L599.5 203.8L622.9 235.0L635.8 265.0L642.5 302.0L649.6 330.2L657.0 358.0L644.4 390.2L615.0 422.0L587.6 469.5L582.3 499.4L581.8 537.8L623.6 636.1L651.7 693.6L649.0 781.2L615.2 849.7"/>
<rect x="629.9" y="259.3" width="11.4" height="12" rx="1" fill="#000"/>
<text x="648.3" y="265.5" font-size="20.8">+24h</text>
<rect x="643.9" y="324.2" width="11.4" height="12" rx="1" fill="#000"/>
<text x="662.3" y="330.4" font-size="20.8">+48h</text>
<rect x="638.7" y="384.3" width="11.4" height="12" rx="1" fill="#000"/>
<text x="657.1" y="390.5" font-size="20.8">+72h</text>
<rect x="581.9" y="463.5" width="11.4" height="12" rx="1" fill="#000"/>
<text x="600.3" y="469.7" font-size="20.8">+96h</text>
<rect x="618.0" y="630.2" width="11.4" height="12" rx="1" fill="#000"/>
<text x="636.4" y="636.4" font-size="20.8">+120h</text>
<path d="M561.3 146.1l14.2 14.2M561.3 160.3l14.2 -14.2" stroke="#000" stroke-width="2.3" fill="none"/>
</g>
<rect x="50.5" y="57.5" width="1124.9" height="990" fill="none" stroke="#000" stroke-width="1.1"/>
<text x="68.0" y="1065.1" font-size="14.3" text-anchor="middle">155°E</text>
<text x="187.6" y="1065.1" font-size="14.3" text-anchor="middle">160°E</text>
<text x="307.1" y="1065.1" font-size="14.3" text-anchor="middle">165°E</text>
<text x="426.7" y="1065.1" font-size="14.3" text-anchor="middle">170°E</text>
<text x="546.2" y="1065.1" font-size="14.3" text-anchor="middle">175°E</text>
<text x="665.8" y="1065.1" font-size="14.3" text-anchor="middle">180°</text>
<text x="785.3" y="1065.1" font-size="14.3" text-anchor="middle">175°W</text>
<text x="904.9" y="1065.1" font-size="14.3" text-anchor="middle">170°W</text>
<text x="1024.4" y="1065.1" font-size="14.3" text-anchor="middle">165°W</text>
<text x="1144.0" y="1065.1" font-size="14.3" text-anchor="middle">160°W</text>
<text x="44.3" y="994.7" font-size="14.3" text-anchor="end">55°S</text>
<text x="44.3" y="875.1" font-size="14.3" text-anchor="end">50°S</text>
<text x="44.3" y="755.6" font-size="14.3" text-anchor="end">45°S</text>
<text x="44.3" y="636.0" font-size="14.3" text-anchor="end">40°S</text>
<text x="44.3" y="516.5" font-size="14.3" text-anchor="end">35°S</text>
<text x="44.3" y="396.9" font-size="14.3" text-anchor="end">30°S</text>
<text x="44.3" y="277.4" font-size="14.3" text-anchor="end">25°S</text>
<text x="44.3" y="157.8" font-size="14.3" text-anchor="end">20°S</text>
<text x="1004.0" y="1027.8" font-size="16.75">www.smca.fun</text>
<g font-size="14.5">
<text x="1187.6" y="68.10" fill="#ff0000">Member1:100kt</text>
<text x="1187.6" y="83.51" fill="#f0a000">Member2:94kt</text>
<text x="1187.6" y="98.92" fill="#780000">Member3:125kt</text>
<text x="1187.6" y="114.33" fill="#f0a000">Member4:93kt</text>
<text x="1187.6" y="129.74" fill="#f0a000">Member5:93kt</text>
<text x="1187.6" y="145.15" fill="#ff0000">Member6:97kt</text>
<text x="1187.6" y="160.56" fill="#f0a000">Member7:94kt</text>
<text x="1187.6" y="175.97" fill="#ff0000">Member8:103kt</text>
<text x="1187.6" y="191.38" fill="#ff0000">Member9:97kt</text>
<text x="1187.6" y="206.79" fill="#ff0000">Member10:96kt</text>
<text x="1187.6" y="222.20" fill="#f0a000">Member11:93kt</text>
<text x="1187.6" y="237.61" fill="#ff0000">Member12:96kt</text>
<text x="1187.6" y="253.02" fill="#ff0000">Member13:98kt</text>
<text x="1187.6" y="268.43" fill="#f0a000">Member14:93kt</text>
<text x="1187.6" y="283.84" fill="#ff0000">Member15:97kt</text>
<text x="1187.6" y="299.25" fill="#f0a000">Member16:93kt</text>
<text x="1187.6" y="314.66" fill="#f0a000">Member17:93kt</text>
<text x="1187.6" y="330.07" fill="#ff0000">Member18:99kt</text>
<text x="1187.6" y="345.48" fill="#f0a000">Member19:93kt</text>
<text x="1187.6" y="360.89" fill="#f0a000">Member20:93kt</text>
<text x="1187.6" y="376.30" fill="#780000">Member21:117kt</text>
<text x="1187.6" y="391.71" fill="#ff0000">Member22:99kt</text>
<text x="1187.6" y="407.12" fill="#ff0000">Member23:96kt</text>
<text x="1187.6" y="422.53" fill="#ff0000">Member24:98kt</text>
<text x="1187.6" y="437.94" fill="#ff0000">Member25:99kt</text>
<text x="1187.6" y="453.35" fill="#f0a000">Member26:93kt</text>
<text x="1187.6" y="468.76" fill="#ff0000">Member27:98kt</text>
<text x="1187.6" y="484.17" fill="#f0a000">Member28:93kt</text>
<text x="1187.6" y="499.58" fill="#ff0000">Member29:101kt</text>
<text x="1187.6" y="514.99" fill="#ff0000">Member30:104kt</text>
<text x="1187.6" y="530.40" fill="#f0a000">Member31:93kt</text>
<text x="1187.6" y="545.81" fill="#f0a000">Member32:93kt</text>
<text x="1187.6" y="561.22" fill="#ff0000">Member33:105kt</text>
<text x="1187.6" y="576.63" fill="#ff0000">Member34:102kt</text>
<text x="1187.6" y="592.04" fill="#ff0000">Member35:96kt</text>
<text x="1187.6" y="607.45" fill="#f0a000">Member36:93kt</text>
<text x="1187.6" y="622.86" fill="#ff0000">Member37:108kt</text>
<text x="1187.6" y="638.27" fill="#ff0000">Member38:96kt</text>
<text x="1187.6" y="653.68" fill="#ff0000">Member39:97kt</text>
<text x="1187.6" y="669.09" fill="#f0a000">Member40:93kt</text>
<text x="1187.6" y="684.50" fill="#ff0000">Member41:100kt</text>
<text x="1187.6" y="699.91" fill="#ff0000">Member42:100kt</text>
<text x="1187.6" y="715.32" fill="#ff0000">Member43:97kt</text>
<text x="1187.6" y="730.73" fill="#f0a000">Member44:93kt</text>
<text x="1187.6" y="746.14" fill="#ff0000">Member45:96kt</text>
<text x="1187.6" y="761.55" fill="#ff0000">Member46:98kt</text>
<text x="1187.6" y="776.96" fill="#ff0000">Member47:96kt</text>
<text x="1187.6" y="792.37" fill="#780000">Member48:114kt</text>
<text x="1187.6" y="807.78" fill="#ff0000">Member49:101kt</text>
<text x="1187.6" y="823.19" fill="#ff0000">Member50:96kt</text>
<text x="1187.6" y="838.60" fill="#ff0000">Ens Mean:97kt</text>
</g>
<rect x="1188.5" y="854.6" width="149.9" height="192.7" rx="3" ry="3" fill="#fff" stroke="#cccccc" stroke-width="1.05"/>
<rect x="1194" y="861.0" width="27" height="9.9" fill="#f25ff5"/>
<text x="1231.8" y="870.8" font-size="14.0">Category 5</text>
<rect x="1194" y="882.0" width="27" height="9.9" fill="#780000"/>
<text x="1231.8" y="891.8" font-size="14.0">Category 4</text>
<rect x="1194" y="903.0" width="27" height="9.9" fill="#ff0000"/>
<text x="1231.8" y="912.8" font-size="14.0">Category 3</text>
<rect x="1194" y="924.0" width="27" height="9.9" fill="#f0a000"/>
<text x="1231.8" y="933.8" font-size="14.0">Category 2</text>
<rect x="1194" y="945.0" width="27" height="9.9" fill="#f0d000"/>
<text x="1231.8" y="954.8" font-size="14.0">Category 1</text>
<rect x="1194" y="966.0" width="27" height="9.9" fill="#00aaff"/>
<text x="1231.8" y="975.8" font-size="14.0">Tropical Storm</text>
<rect x="1194" y="987.0" width="27" height="9.9" fill="#00a010"/>
<text x="1231.8" y="996.8" font-size="14.0">Depression</text>
<rect x="1194" y="1008.0" width="27" height="9.9" fill="#00f020"/>
<text x="1231.8" y="1017.8" font-size="14.0">Disturbance</text>
<rect x="1194" y="1029.0" width="27" height="9.9" fill="#000000"/>
<text x="1231.8" y="1038.8" font-size="14.0">Ens Mean</text>
</svg></body></html>
